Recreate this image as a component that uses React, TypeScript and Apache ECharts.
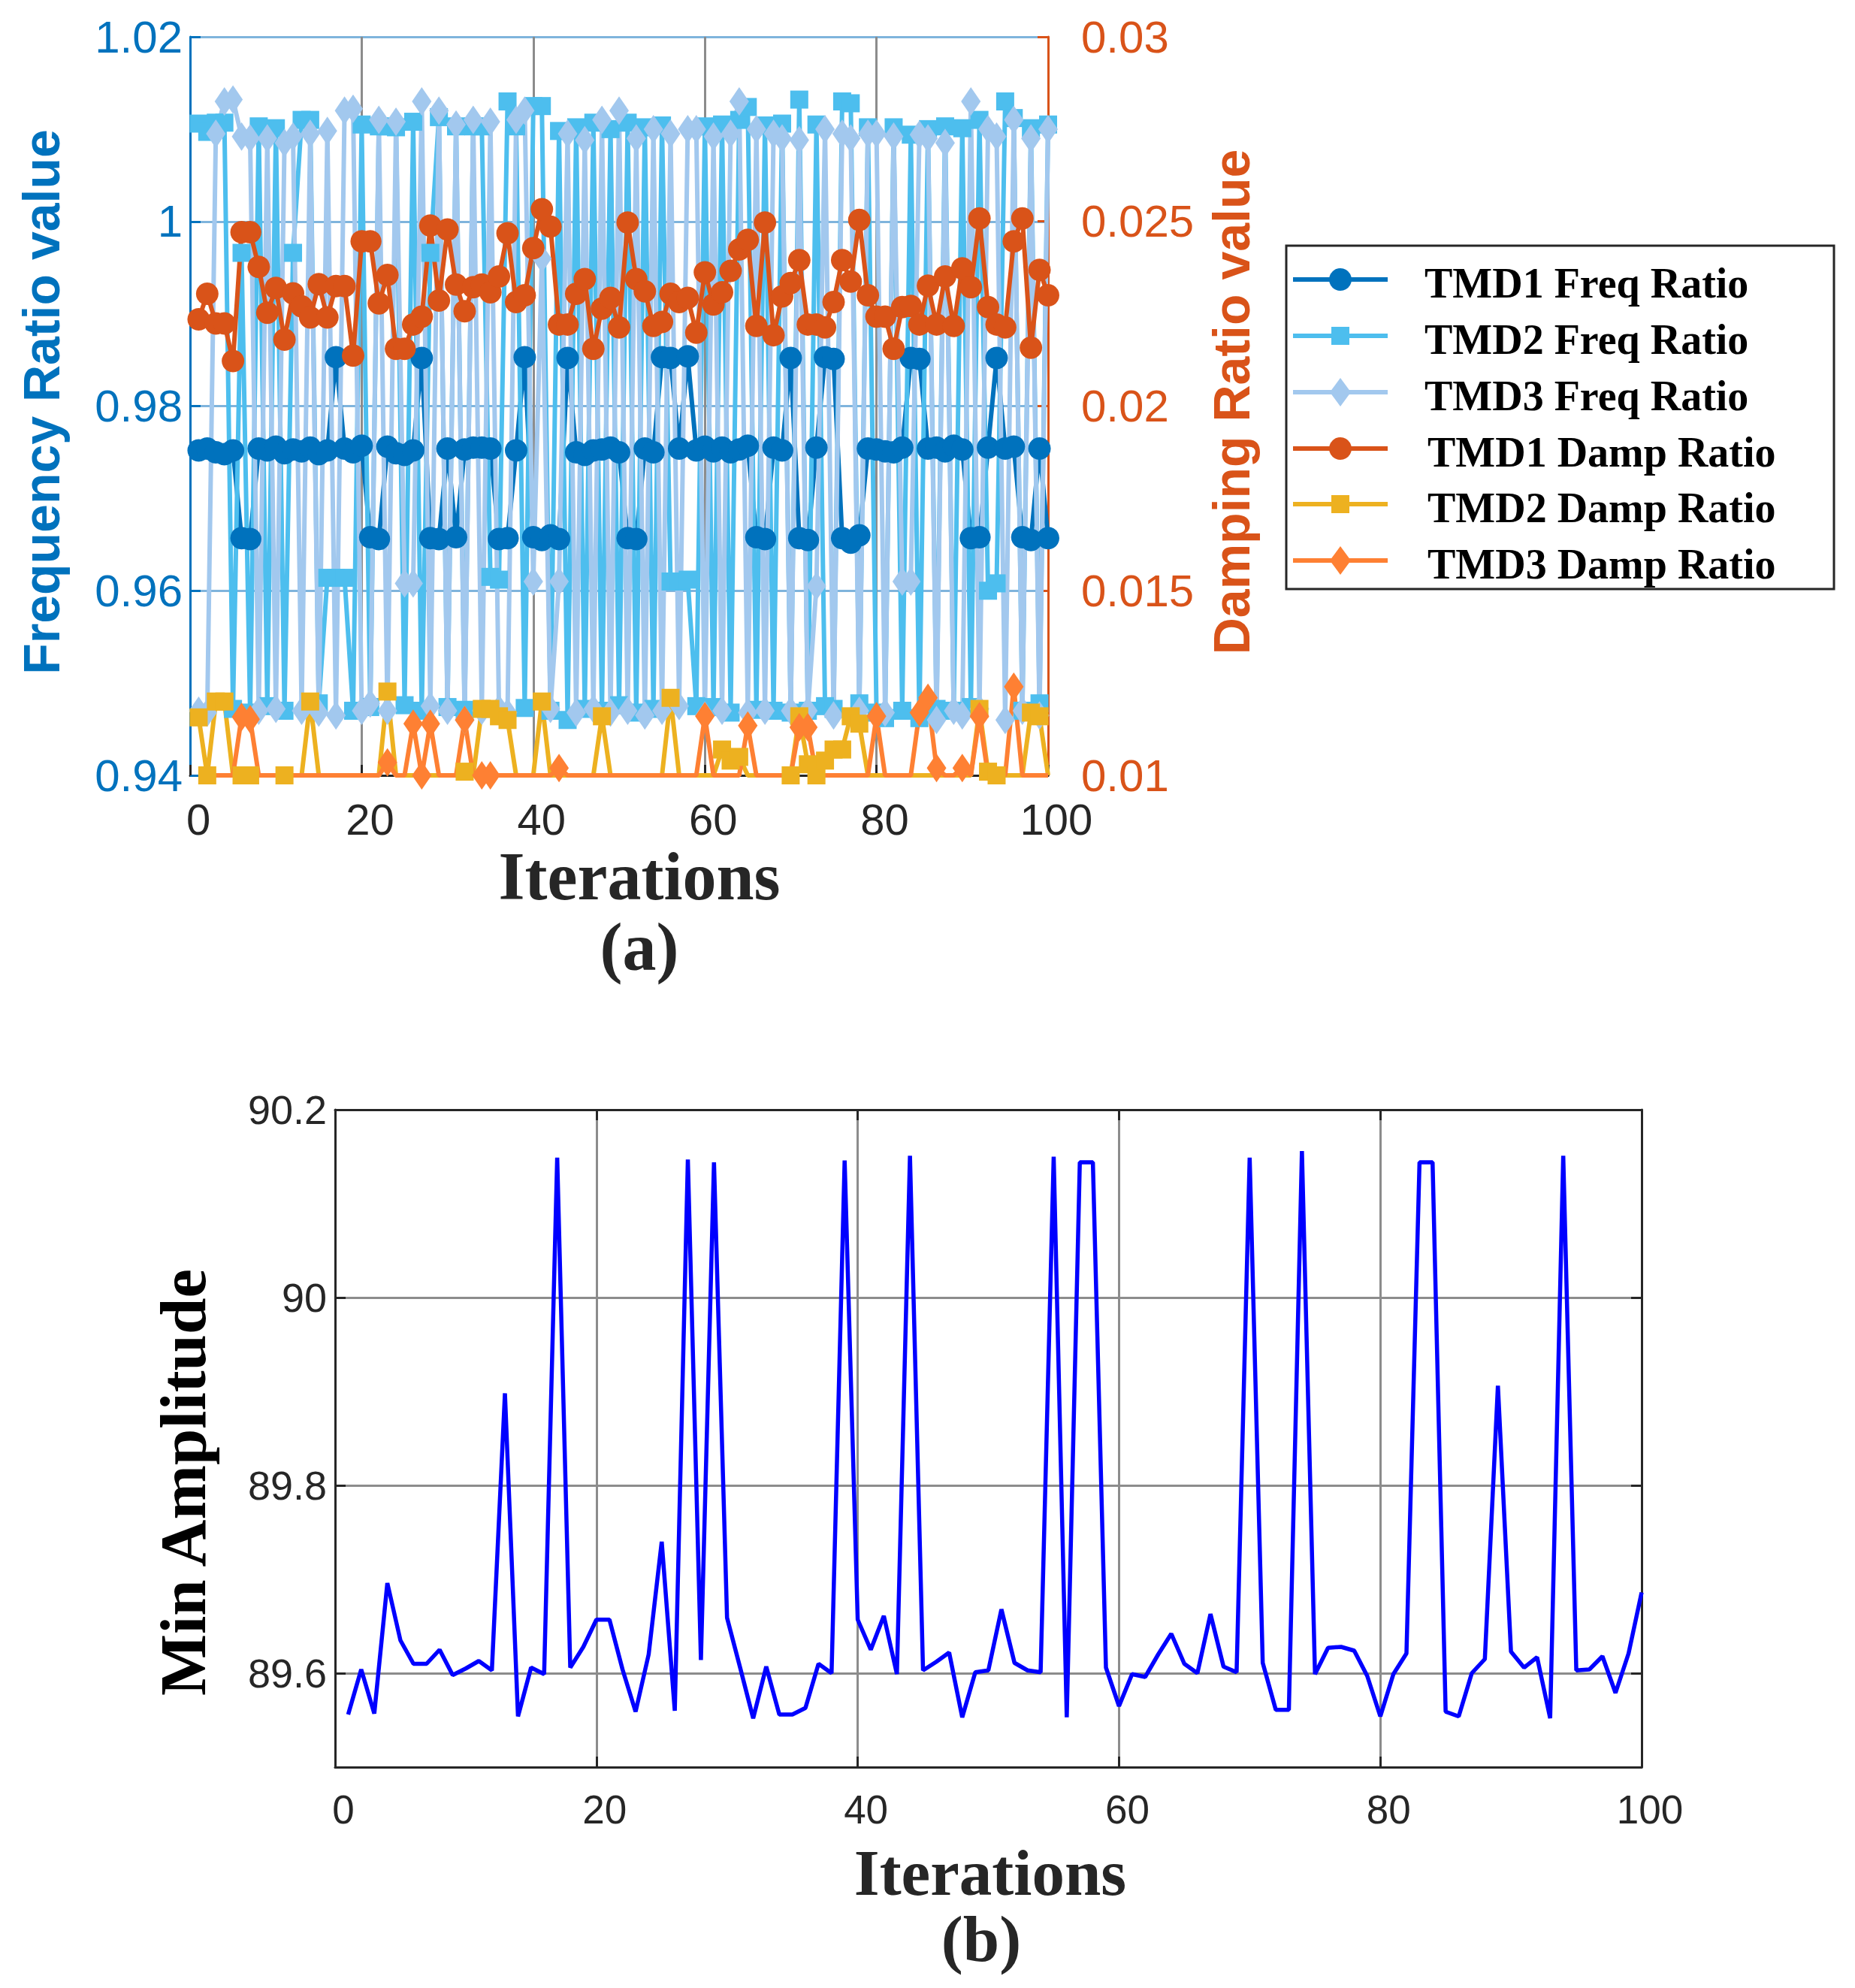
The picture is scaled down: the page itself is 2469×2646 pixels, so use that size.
import React, { useEffect, useRef } from 'react';
import * as echarts from 'echarts';

// ---------------- DATA ----------------
const iterations: number[] = Array.from({ length: 100 }, (_, i) => i + 1);

const xTicks = [0, 20, 40, 60, 80, 100];

// (a) left axis: frequency ratios
const tmd1Freq = [
  0.9752, 0.9754, 0.9750, 0.9748, 0.9752, 0.9657, 0.9656, 0.9754, 0.9752, 0.9756,
  0.9749, 0.9753, 0.9751, 0.9755, 0.9748, 0.9752, 0.9853, 0.9754, 0.9750, 0.9757,
  0.9658, 0.9656, 0.9756, 0.9749, 0.9747, 0.9752, 0.9852, 0.9657, 0.9656, 0.9754,
  0.9658, 0.9753, 0.9755, 0.9755, 0.9754, 0.9656, 0.9657, 0.9752, 0.9853, 0.9658,
  0.9655, 0.9660, 0.9656, 0.9852, 0.9750, 0.9747, 0.9752, 0.9753, 0.9755, 0.9750,
  0.9657, 0.9656, 0.9754, 0.9750, 0.9853, 0.9852, 0.9754, 0.9854, 0.9752, 0.9756,
  0.9751, 0.9755, 0.9750, 0.9753, 0.9757, 0.9658, 0.9656, 0.9755, 0.9752, 0.9852,
  0.9657, 0.9655, 0.9755, 0.9853, 0.9851, 0.9657, 0.9652, 0.9660, 0.9754, 0.9753,
  0.9751, 0.9750, 0.9755, 0.9852, 0.9851, 0.9754, 0.9755, 0.9751, 0.9757, 0.9753,
  0.9657, 0.9658, 0.9755, 0.9852, 0.9754, 0.9756, 0.9658, 0.9655, 0.9754, 0.9657,
];

const tmd2Freq = [
  1.0106, 1.0097, 1.0107, 1.0107, 0.9472, 0.9966, 0.9468, 1.0103, 0.9475, 1.0101,
  0.9470, 0.9966, 1.0110, 1.0110, 0.9478, 0.9614, 0.9614, 0.9614, 0.9470, 1.0105,
  0.9474, 1.0103, 1.0103, 1.0102, 0.9476, 1.0108, 0.9470, 0.9966, 1.0113, 0.9474,
  1.0103, 0.9471, 1.0103, 1.0103, 0.9615, 0.9612, 1.0130, 1.0103, 0.9473, 1.0125,
  1.0125, 0.9470, 1.0098, 0.9460, 1.0102, 0.9472, 1.0107, 0.9470, 1.0100, 0.9476,
  1.0107, 0.9468, 1.0102, 0.9472, 1.0104, 0.9610, 0.9610, 0.9612, 0.9475, 1.0103,
  0.9474, 1.0105, 0.9468, 1.0110, 1.0124, 0.9471, 1.0104, 0.9470, 1.0106, 0.9468,
  1.0132, 0.9470, 1.0105, 0.9475, 0.9472, 1.0130, 1.0128, 0.9478, 1.0102, 0.9468,
  0.9462, 1.0102, 0.9470, 1.0094, 0.9462, 1.0100, 0.9472, 1.0103, 0.9470, 1.0101,
  0.9474, 1.0110, 0.9600, 0.9608, 1.0130, 1.0112, 0.9470, 1.0101, 0.9478, 1.0105,
];

const tmd3Freq = [
  0.9470, 0.9468, 1.0095, 1.0130, 1.0132, 1.0092, 1.0090, 0.9470, 1.0090, 0.9472,
  1.0085, 1.0092, 0.9470, 1.0095, 0.9468, 1.0098, 0.9465, 1.0120, 1.0122, 0.9470,
  0.9478, 1.0110, 0.9470, 1.0108, 0.9608, 0.9608, 1.0130, 0.9475, 1.0120, 0.9470,
  1.0105, 0.9460, 1.0110, 0.9470, 1.0108, 0.9472, 0.9468, 1.0110, 1.0120, 0.9610,
  0.9960, 0.9472, 0.9610, 1.0095, 0.9468, 1.0088, 0.9472, 1.0110, 0.9468, 1.0120,
  0.9470, 1.0090, 0.9465, 1.0100, 0.9470, 1.0095, 0.9475, 1.0100, 1.0100, 0.9465,
  1.0092, 0.9470, 1.0095, 1.0130, 0.9468, 1.0100, 0.9470, 1.0095, 1.0090, 0.9470,
  1.0088, 0.9470, 0.9605, 1.0100, 0.9465, 1.0095, 1.0090, 0.9470, 1.0095, 1.0095,
  0.9468, 1.0092, 0.9610, 0.9610, 1.0094, 1.0090, 0.9460, 1.0085, 0.9470, 0.9465,
  1.0130, 0.9472, 1.0100, 1.0092, 0.9460, 1.0110, 0.9470, 1.0090, 0.9465, 1.0100,
];

// (a) right axis: damping ratios (values below 0.01 sit under the axis floor)
const tmd1Damp = [
  0.02235, 0.02304, 0.02224, 0.02224, 0.02122, 0.02471, 0.02471, 0.02377, 0.02253, 0.02320,
  0.02180, 0.02305, 0.02270, 0.02240, 0.02330, 0.02240, 0.02325, 0.02325, 0.02137, 0.02446,
  0.02446, 0.02278, 0.02355, 0.02155, 0.02155, 0.02221, 0.02242, 0.02489, 0.02286, 0.02478,
  0.02329, 0.02257, 0.02322, 0.02329, 0.02308, 0.02351, 0.02468, 0.02282, 0.02300, 0.02428,
  0.02533, 0.02486, 0.02221, 0.02221, 0.02304, 0.02344, 0.02155, 0.02264, 0.02293, 0.02213,
  0.02497, 0.02344, 0.02311, 0.02217, 0.02228, 0.02304, 0.02282, 0.02293, 0.02199, 0.02362,
  0.02275, 0.02308, 0.02366, 0.02424, 0.02450, 0.02217, 0.02497, 0.02192, 0.02297, 0.02333,
  0.02395, 0.02221, 0.02221, 0.02213, 0.02282, 0.02395, 0.02337, 0.02504, 0.02300, 0.02242,
  0.02242, 0.02155, 0.02268, 0.02271, 0.02221, 0.02326, 0.02221, 0.02351, 0.02217, 0.02373,
  0.02322, 0.02508, 0.02268, 0.02221, 0.02213, 0.02446, 0.02508, 0.02158, 0.02369, 0.02300,
];

const tmd2Damp = [
  0.01157, 0.0100, 0.0120, 0.0120, 0.0099, 0.0100, 0.0100, 0.0099, 0.0099, 0.0099,
  0.0100, 0.0099, 0.0099, 0.0120, 0.0099, 0.0099, 0.0099, 0.0099, 0.0099, 0.0099,
  0.0099, 0.0099, 0.01227, 0.0099, 0.0099, 0.0099, 0.0099, 0.0099, 0.0099, 0.0099,
  0.0099, 0.0101, 0.0099, 0.0118, 0.0118, 0.0116, 0.0115, 0.0099, 0.0099, 0.0099,
  0.0120, 0.0099, 0.0099, 0.0099, 0.0099, 0.0099, 0.0099, 0.0116, 0.0099, 0.0099,
  0.0099, 0.0099, 0.0099, 0.0099, 0.0099, 0.0121, 0.0099, 0.0099, 0.0099, 0.0099,
  0.0099, 0.0107, 0.0104, 0.0105, 0.0099, 0.0099, 0.0099, 0.0099, 0.0099, 0.0100,
  0.0116, 0.0103, 0.0100, 0.0104, 0.0107, 0.0107, 0.0116, 0.0114, 0.0099, 0.0099,
  0.0099, 0.0099, 0.0099, 0.0099, 0.0099, 0.0099, 0.0099, 0.0099, 0.0099, 0.0099,
  0.0099, 0.0118, 0.0101, 0.0100, 0.0099, 0.0099, 0.0099, 0.0117, 0.0116, 0.0099,
];

const tmd3Damp = [
  0.0099, 0.0099, 0.0099, 0.0099, 0.0099, 0.01158, 0.01152, 0.0099, 0.0099, 0.0099,
  0.0099, 0.0099, 0.0099, 0.0099, 0.0099, 0.0099, 0.0099, 0.0099, 0.0099, 0.0099,
  0.0099, 0.0099, 0.01035, 0.0099, 0.0099, 0.0114, 0.0100, 0.0114, 0.0099, 0.0099,
  0.0099, 0.0115, 0.0099, 0.0100, 0.0100, 0.0099, 0.0099, 0.0099, 0.0099, 0.0099,
  0.0099, 0.0099, 0.0102, 0.0099, 0.0099, 0.0099, 0.0099, 0.0099, 0.0099, 0.0099,
  0.0099, 0.0099, 0.0099, 0.0099, 0.0099, 0.0099, 0.0099, 0.0099, 0.0099, 0.0116,
  0.0099, 0.0099, 0.0099, 0.0099, 0.01135, 0.0099, 0.0099, 0.0099, 0.0099, 0.0099,
  0.0113, 0.0113, 0.0099, 0.0099, 0.0099, 0.0099, 0.0099, 0.0099, 0.0099, 0.0116,
  0.0099, 0.0099, 0.0099, 0.0099, 0.0117, 0.0121, 0.0102, 0.0099, 0.0099, 0.0102,
  0.0099, 0.0116, 0.0099, 0.0099, 0.0099, 0.0124, 0.0099, 0.0099, 0.0099, 0.0099,
];

// (b) minimum amplitude per iteration
const minAmplitude = [
  89.556, 89.604, 89.557, 89.696, 89.635, 89.610, 89.610, 89.625, 89.598, 89.605,
  89.613, 89.603, 89.898, 89.554, 89.606, 89.599, 90.149, 89.606, 89.628, 89.657,
  89.657, 89.604, 89.559, 89.620, 89.740, 89.560, 90.147, 89.614, 90.144, 89.659,
  89.606, 89.552, 89.607, 89.556, 89.556, 89.563, 89.610, 89.600, 90.146, 89.657,
  89.625, 89.661, 89.599, 90.151, 89.603, 89.612, 89.622, 89.553, 89.601, 89.603,
  89.668, 89.611, 89.603, 89.601, 90.150, 89.553, 90.144, 90.144, 89.606, 89.565,
  89.599, 89.596, 89.620, 89.642, 89.610, 89.600, 89.663, 89.607, 89.601, 90.149,
  89.611, 89.561, 89.561, 90.156, 89.599, 89.627, 89.628, 89.624, 89.597, 89.554,
  89.599, 89.621, 90.144, 90.144, 89.559, 89.554, 89.600, 89.615, 89.906, 89.623,
  89.606, 89.617, 89.552, 90.151, 89.603, 89.604, 89.618, 89.579, 89.621, 89.686,
];

const seriesNames = [
  'TMD1 Freq Ratio', 'TMD2 Freq Ratio', 'TMD3 Freq Ratio',
  'TMD1 Damp Ratio', 'TMD2 Damp Ratio', 'TMD3 Damp Ratio',
];

// ---------------- STYLE ----------------
const SANS = '"Liberation Sans", Arial, sans-serif';
const SERIF = '"Liberation Serif", "Times New Roman", serif';
const colors = ['#0072BD', '#4DBEEE', '#A2C8EE', '#D95319', '#EDB120', '#FE8033'];
const symbols = ['circle', 'rect', 'diamond', 'circle', 'rect', 'diamond'];
const symbolSizes: any[] = [30, 24, [26, 38], 30, 24, [26, 38]];
const DAMP_MIN = 0.01;
const DAMP_MAX = 0.03;

function pairs(vals: number[]) {
  return vals.map((v, i) => [iterations[i], v]);
}
function dampPairs(vals: number[]) {
  return vals.map((v, i) =>
    v < DAMP_MIN ? { value: [iterations[i], DAMP_MIN], symbol: 'none' } : [iterations[i], v]
  );
}

export default function App() {
  const ref = useRef<HTMLDivElement>(null);
  useEffect(() => {
    if (!ref.current) return;
    const chart = echarts.init(ref.current, undefined, { renderer: 'svg' });

    const G0 = { left: 253, top: 49, width: 1142, height: 983 };
    const G1 = { left: 446, top: 1477, width: 1739, height: 875 };

    const freqData = [tmd1Freq, tmd2Freq, tmd3Freq];
    const dampData = [tmd1Damp, tmd2Damp, tmd3Damp];

    const series: any[] = [];
    freqData.forEach((d, k) => {
      series.push({
        name: seriesNames[k], type: 'line', xAxisIndex: 0, yAxisIndex: 0,
        data: pairs(d), symbol: symbols[k], symbolSize: symbolSizes[k], showAllSymbol: true,
        lineStyle: { color: colors[k], width: 6 }, itemStyle: { color: colors[k] },
      });
    });
    dampData.forEach((d, k) => {
      const j = k + 3;
      series.push({
        name: seriesNames[j], type: 'line', xAxisIndex: 0, yAxisIndex: 1,
        data: dampPairs(d), symbol: symbols[j], symbolSize: symbolSizes[j], showAllSymbol: true,
        lineStyle: { color: colors[j], width: 6 }, itemStyle: { color: colors[j] },
      });
    });
    series.push({
      name: 'Min Amplitude', type: 'line', xAxisIndex: 1, yAxisIndex: 2,
      data: pairs(minAmplitude), symbol: 'none',
      lineStyle: { color: '#0000FF', width: 5.5 },
    });

    // legend (drawn)
    const legendRows = [372, 447, 522, 597, 671, 746];
    const legendEls: any[] = [
      { type: 'rect', shape: { x: 1712, y: 327, width: 729, height: 457 },
        style: { fill: '#ffffff', stroke: '#262626', lineWidth: 3 } },
    ];
    legendRows.forEach((y, k) => {
      const c = colors[k];
      legendEls.push({ type: 'line', shape: { x1: 1721, y1: y, x2: 1847, y2: y },
        style: { stroke: c, lineWidth: 6 } });
      const cx = 1784;
      if (symbols[k] === 'circle') {
        legendEls.push({ type: 'circle', shape: { cx, cy: y, r: 15 }, style: { fill: c } });
      } else if (symbols[k] === 'rect') {
        legendEls.push({ type: 'rect', shape: { x: cx - 12, y: y - 12, width: 24, height: 24 }, style: { fill: c } });
      } else {
        legendEls.push({ type: 'polygon', shape: { points: [[cx, y - 19], [cx + 14, y], [cx, y + 19], [cx - 14, y]] }, style: { fill: c } });
      }
      legendEls.push({ type: 'text', x: k < 3 ? 1896 : 1900, y: y + 5,
        style: { text: seriesNames[k], font: `bold 56px ${SERIF}`, lineHeight: 50, fill: '#000000', align: 'left', verticalAlign: 'middle' } });
    });

    const titleEls: any[] = [
      { type: 'text', x: 55, y: 535, rotation: Math.PI / 2,
        style: { text: 'Frequency Ratio value', font: `bold 68px ${SANS}`, lineHeight: 56, fill: '#0072BD', align: 'center', verticalAlign: 'middle' } },
      { type: 'text', x: 1639, y: 535, rotation: Math.PI / 2,
        style: { text: 'Damping Ratio value', font: `bold 68px ${SANS}`, lineHeight: 56, fill: '#D95319', align: 'center', verticalAlign: 'middle' } },
      { type: 'text', x: 851, y: 1166,
        style: { text: 'Iterations', font: `bold 90px ${SERIF}`, lineHeight: 60, fill: '#262626', align: 'center', verticalAlign: 'middle' } },
      { type: 'text', x: 851, y: 1260,
        style: { text: '(a)', font: `bold 90px ${SERIF}`, lineHeight: 70, fill: '#262626', align: 'center', verticalAlign: 'middle' } },
      { type: 'text', x: 243, y: 1973, rotation: Math.PI / 2,
        style: { text: 'Min Amplitude', font: `bold 87px ${SERIF}`, lineHeight: 66, fill: '#000000', align: 'center', verticalAlign: 'middle' } },
      { type: 'text', x: 1318, y: 2492,
        style: { text: 'Iterations', font: `bold 87px ${SERIF}`, lineHeight: 60, fill: '#262626', align: 'center', verticalAlign: 'middle' } },
      { type: 'text', x: 1306, y: 2580,
        style: { text: '(b)', font: `bold 87px ${SERIF}`, lineHeight: 66, fill: '#262626', align: 'center', verticalAlign: 'middle' } },
    ];

    const tickStyle = (color: string) => ({ show: true, inside: true, length: 14, lineStyle: { color, width: 3 } });

    chart.setOption({
      animation: false,
      backgroundColor: '#ffffff',
      grid: [
        { ...G0, containLabel: false },
        { ...G1, containLabel: false },
      ],
      xAxis: [
        {
          gridIndex: 0, type: 'value', min: xTicks[0], max: xTicks[xTicks.length - 1], interval: 20,
          axisLine: { show: true, lineStyle: { color: '#262626', width: 3 } },
          axisTick: tickStyle('#262626'),
          axisLabel: { color: '#262626', fontSize: 58, fontFamily: SANS, margin: 36, lineHeight: 44, padding: [0, 0, 0, 22] },
          splitLine: { show: true, lineStyle: { color: '#8c8c8c', width: 3 } },
        },
        {
          gridIndex: 1, type: 'value', min: xTicks[0], max: xTicks[xTicks.length - 1], interval: 20,
          axisLine: { show: true, onZero: false, lineStyle: { color: '#262626', width: 3 } },
          axisTick: tickStyle('#262626'),
          axisLabel: { color: '#262626', fontSize: 53, fontFamily: SANS, margin: 36, lineHeight: 40, padding: [0, 0, 0, 22] },
          splitLine: { show: true, lineStyle: { color: '#8c8c8c', width: 3 } },
        },
        {
          gridIndex: 1, type: 'value', position: 'top', min: 0, max: 100, interval: 20,
          axisLine: { show: true, onZero: false, lineStyle: { color: '#262626', width: 3 } },
          axisTick: tickStyle('#262626'), axisLabel: { show: false }, splitLine: { show: false },
        },
      ],
      yAxis: [
        {
          gridIndex: 0, type: 'value', min: 0.94, max: 1.02, interval: 0.02, position: 'left',
          axisLine: { show: true, lineStyle: { color: '#0072BD', width: 3 } },
          axisTick: tickStyle('#0072BD'),
          axisLabel: { color: '#0072BD', fontSize: 60, fontFamily: SANS, margin: 10, padding: [12, 0, 0, 0],
            formatter: (v: number) => String(+v.toFixed(3)) },
          splitLine: { show: true, lineStyle: { color: '#7FB4DC', width: 3 } },
        },
        {
          gridIndex: 0, type: 'value', min: DAMP_MIN, max: DAMP_MAX, interval: 0.005, position: 'right',
          axisLine: { show: true, lineStyle: { color: '#D95319', width: 3 } },
          axisTick: tickStyle('#D95319'),
          axisLabel: { color: '#D95319', fontSize: 60, fontFamily: SANS, margin: 44, padding: [12, 0, 0, 0],
            formatter: (v: number) => String(+v.toFixed(4)) },
          splitLine: { show: false },
        },
        {
          gridIndex: 1, type: 'value', min: 89.5, max: 90.2, splitNumber: 3, position: 'left',
          axisLine: { show: true, onZero: false, lineStyle: { color: '#262626', width: 3 } },
          axisTick: tickStyle('#262626'),
          axisLabel: { color: '#262626', fontSize: 54, fontFamily: SANS, margin: 11, showMinLabel: false, padding: [8, 0, 0, 0],
            formatter: (v: number) => String(+v.toFixed(2)) },
          splitLine: { show: true, lineStyle: { color: '#8c8c8c', width: 3 } },
        },
        {
          gridIndex: 1, type: 'value', min: 89.5, max: 90.2, splitNumber: 3, position: 'right',
          axisLine: { show: true, onZero: false, lineStyle: { color: '#262626', width: 3 } },
          axisTick: tickStyle('#262626'), axisLabel: { show: false }, splitLine: { show: false },
        },
      ],
      series,
      graphic: { elements: [...legendEls, ...titleEls] },
    });

    return () => chart.dispose();
  }, []);

  return (
    <div
      ref={ref}
      style={{ position: 'absolute', left: 0, top: 0, width: 2469, height: 2646, background: '#ffffff' }}
    />
  );
}
